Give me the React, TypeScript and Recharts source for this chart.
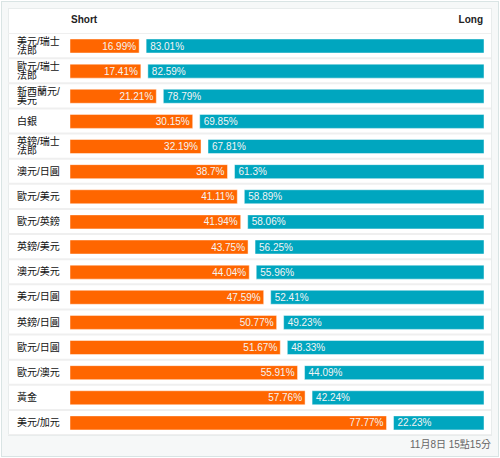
import React from 'react';
import { BarChart, Bar, XAxis, YAxis, LabelList } from 'recharts';

const pairs = [
  '美元/瑞士法郎',
  '歐元/瑞士法郎',
  '新西蘭元/美元',
  '白銀',
  '英鎊/瑞士法郎',
  '澳元/日圓',
  '歐元/美元',
  '歐元/英鎊',
  '英鎊/美元',
  '澳元/美元',
  '美元/日圓',
  '英鎊/日圓',
  '歐元/日圓',
  '歐元/澳元',
  '黃金',
  '美元/加元',
];
const shortPct = [16.99, 17.41, 21.21, 30.15, 32.19, 38.7, 41.11, 41.94, 43.75, 44.04, 47.59, 50.77, 51.67, 55.91, 57.76, 77.77];
const longPct = [83.01, 82.59, 78.79, 69.85, 67.81, 61.3, 58.89, 58.06, 56.25, 55.96, 52.41, 49.23, 48.33, 44.09, 42.24, 22.23];
const GAP = 1.72;

const data = pairs.map((name, i) => ({ name, short: shortPct[i], gap: GAP, long: longPct[i] }));

const CHART_W = 500;
const CHART_H = 402;
const BAND = CHART_H / pairs.length;
const FONT = '"Liberation Sans", Arial, "Noto Sans CJK TC", sans-serif';

function PairTick(props: any) {
  const { y, payload } = props;
  const index = props.index ?? payload?.index ?? 0;
  const label = String(payload.value);
  const lines = label.length > 5 ? [label.slice(0, 5), label.slice(5)] : [label];
  const lh = 9;
  const startY = y - ((lines.length - 1) * lh) / 2;
  return (
    <g>
      <line x1={8} x2={491} y1={y - BAND / 2} y2={y - BAND / 2} stroke="#efefef" strokeWidth={2} />
      {index === pairs.length - 1 && (
        <line x1={8} x2={491} y1={y + BAND / 2} y2={y + BAND / 2} stroke="#efefef" strokeWidth={2} />
      )}
      <text fontSize={10} fill="#111" fontFamily={FONT}>
        {lines.map((l, i) => (
          <tspan key={i} x={17} y={startY + i * lh + 3.6}>
            {l}
          </tspan>
        ))}
      </text>
    </g>
  );
}

const pct = (v: any) => `${v}%`;

export default function App() {
  return (
    <div style={{ position: 'absolute', left: 0, top: 0, width: 500, height: 458, background: '#fff', fontFamily: FONT }}>
      <div
        style={{
          position: 'absolute', left: 1, top: 1, width: 498, height: 456, boxSizing: 'border-box',
          border: '1px solid #d9e4e4', background: '#f6f8f8',
        }}
      />
      <div
        style={{
          position: 'absolute', left: 8, top: 8, width: 484, height: 428, boxSizing: 'border-box',
          border: '1px solid #e8ecec', background: '#fff',
        }}
      />
      <div style={{ position: 'absolute', left: 71, top: 14, fontSize: 10, lineHeight: '12px', fontWeight: 'bold', color: '#222' }}>
        Short
      </div>
      <div style={{ position: 'absolute', right: 17, top: 14, fontSize: 10, lineHeight: '12px', fontWeight: 'bold', color: '#222' }}>
        Long
      </div>
      <div style={{ position: 'absolute', left: 0, top: 33 }}>
        <BarChart
          width={CHART_W}
          height={CHART_H}
          data={data}
          layout="vertical"
          margin={{ top: 0, right: 16, bottom: 0, left: 8 }}
          barSize={14}
        >
          <XAxis type="number" hide domain={[0, 100 + GAP]} allowDataOverflow />
          <YAxis
            type="category"
            dataKey="name"
            width={62}
            axisLine={false}
            tickLine={false}
            interval={0}
            tick={<PairTick />}
          />
          <Bar dataKey="short" stackId="a" fill="#ff6600" stroke="rgba(255,255,255,0.45)" strokeWidth={1} isAnimationActive={false}>
            <LabelList dataKey="short" position="insideRight" offset={3} fill="#f4f4f4" fontSize={10} fontFamily={FONT} formatter={pct} />
          </Bar>
          <Bar dataKey="gap" stackId="a" fill="transparent" isAnimationActive={false} />
          <Bar dataKey="long" stackId="a" fill="#00a6bf" stroke="rgba(255,255,255,0.45)" strokeWidth={1} isAnimationActive={false}>
            <LabelList dataKey="long" position="insideLeft" offset={4} fill="#f4f4f4" fontSize={10} fontFamily={FONT} formatter={pct} />
          </Bar>
        </BarChart>
      </div>
      <div style={{ position: 'absolute', right: 9, top: 439, fontSize: 10, lineHeight: '12px', color: '#666' }}>
        11月8日 15點15分
      </div>
    </div>
  );
}
